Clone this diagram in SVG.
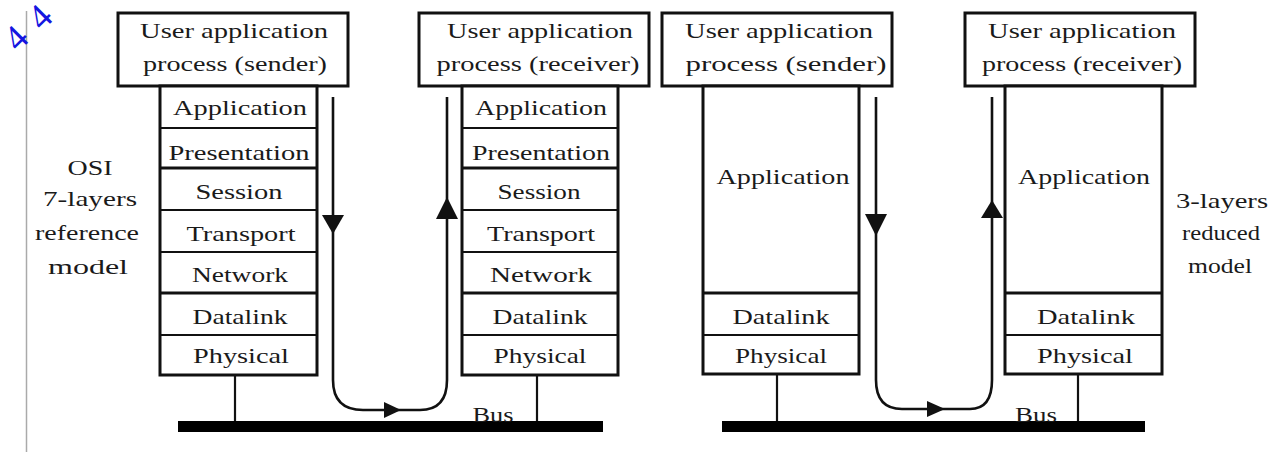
<svg xmlns="http://www.w3.org/2000/svg" width="1283" height="456" viewBox="0 0 1283 456">
<style>
  .box{fill:#fff;stroke:#111;stroke-width:3}
  .div{stroke:#111;stroke-width:2.2;fill:none}
  .divb{stroke:#111;stroke-width:3;fill:none}
  .t{font-family:"Liberation Serif",serif;font-size:22px;fill:#1a1a1a;text-anchor:middle}
  .lbl{font-family:"Liberation Serif",serif;font-size:22px;fill:#1a1a1a;text-anchor:middle}
  .line{stroke:#111;stroke-width:2.6;fill:none}
  .stem{stroke:#111;stroke-width:2.2;fill:none}
  .head{fill:#111}
  .bus{fill:#000}
</style>
<rect width="1283" height="456" fill="#fff"/>
<line x1="26.5" y1="11" x2="26.5" y2="452" stroke="#aaa" stroke-width="1.5"/>
<g id="watermark" font-family="Liberation Serif, serif" font-size="36" fill="#1515e0" text-anchor="middle">
  <text transform="translate(16,38) rotate(-45)" y="12">4</text>
  <text transform="translate(40,17) rotate(-45)" y="12">4</text>
</g>

<g id="labels">
  <text class="lbl" x="90" y="175" textLength="45" lengthAdjust="spacingAndGlyphs">OSI</text>
  <text class="lbl" x="90" y="206" textLength="94" lengthAdjust="spacingAndGlyphs">7-layers</text>
  <text class="lbl" x="87" y="240" textLength="104" lengthAdjust="spacingAndGlyphs">reference</text>
  <text class="lbl" x="88" y="274" textLength="80" lengthAdjust="spacingAndGlyphs">model</text>
  <text class="lbl" x="1222" y="208" textLength="92" lengthAdjust="spacingAndGlyphs">3-layers</text>
  <text class="lbl" x="1221" y="240" textLength="78" lengthAdjust="spacingAndGlyphs">reduced</text>
  <text class="lbl" x="1220" y="273" textLength="64" lengthAdjust="spacingAndGlyphs">model</text>
</g>

<g id="sender-osi">
  <rect class="box" x="118" y="13" width="230" height="73"/>
  <text class="t" x="234" y="38" textLength="188" lengthAdjust="spacingAndGlyphs">User application</text>
  <text class="t" x="235" y="71" textLength="184" lengthAdjust="spacingAndGlyphs">process (sender)</text>
  <rect class="box" x="160" y="86" width="157" height="289"/>
  <line class="div" x1="160" y1="128" x2="317" y2="128"/>
  <line class="divb" x1="160" y1="168" x2="317" y2="168"/>
  <line class="div" x1="160" y1="210" x2="317" y2="210"/>
  <line class="div" x1="160" y1="252" x2="317" y2="252"/>
  <line class="divb" x1="160" y1="293" x2="317" y2="293"/>
  <line class="div" x1="160" y1="335" x2="317" y2="335"/>
  <text class="t" x="240" y="115" textLength="134" lengthAdjust="spacingAndGlyphs">Application</text>
  <text class="t" x="239" y="160" textLength="141" lengthAdjust="spacingAndGlyphs">Presentation</text>
  <text class="t" x="239" y="199" textLength="87" lengthAdjust="spacingAndGlyphs">Session</text>
  <text class="t" x="241" y="241" textLength="109" lengthAdjust="spacingAndGlyphs">Transport</text>
  <text class="t" x="240" y="282" textLength="96" lengthAdjust="spacingAndGlyphs">Network</text>
  <text class="t" x="240" y="324" textLength="95" lengthAdjust="spacingAndGlyphs">Datalink</text>
  <text class="t" x="241" y="363" textLength="96" lengthAdjust="spacingAndGlyphs">Physical</text>
</g>

<g id="receiver-osi">
  <rect class="box" x="419" y="13" width="230" height="73"/>
  <text class="t" x="540" y="38" textLength="186" lengthAdjust="spacingAndGlyphs">User application</text>
  <text class="t" x="538" y="71" textLength="203" lengthAdjust="spacingAndGlyphs">process (receiver)</text>
  <rect class="box" x="462" y="86" width="156" height="289"/>
  <line class="div" x1="462" y1="128" x2="618" y2="128"/>
  <line class="divb" x1="462" y1="168" x2="618" y2="168"/>
  <line class="div" x1="462" y1="210" x2="618" y2="210"/>
  <line class="div" x1="462" y1="252" x2="618" y2="252"/>
  <line class="divb" x1="462" y1="293" x2="618" y2="293"/>
  <line class="div" x1="462" y1="335" x2="618" y2="335"/>
  <text class="t" x="541" y="115" textLength="132" lengthAdjust="spacingAndGlyphs">Application</text>
  <text class="t" x="541" y="160" textLength="138" lengthAdjust="spacingAndGlyphs">Presentation</text>
  <text class="t" x="539" y="199" textLength="83" lengthAdjust="spacingAndGlyphs">Session</text>
  <text class="t" x="541" y="241" textLength="108" lengthAdjust="spacingAndGlyphs">Transport</text>
  <text class="t" x="541" y="282" textLength="102" lengthAdjust="spacingAndGlyphs">Network</text>
  <text class="t" x="540" y="324" textLength="95" lengthAdjust="spacingAndGlyphs">Datalink</text>
  <text class="t" x="540" y="363" textLength="93" lengthAdjust="spacingAndGlyphs">Physical</text>
</g>

<g id="sender-reduced">
  <rect class="box" x="662" y="13" width="230" height="73"/>
  <text class="t" x="779" y="38" textLength="188" lengthAdjust="spacingAndGlyphs">User application</text>
  <text class="t" x="786" y="71" textLength="201" lengthAdjust="spacingAndGlyphs">process (sender)</text>
  <rect class="box" x="703" y="86" width="156" height="288"/>
  <line class="divb" x1="703" y1="293" x2="859" y2="293"/>
  <line class="div" x1="703" y1="335" x2="859" y2="335"/>
  <text class="t" x="783" y="184" textLength="133" lengthAdjust="spacingAndGlyphs">Application</text>
  <text class="t" x="781" y="324" textLength="97" lengthAdjust="spacingAndGlyphs">Datalink</text>
  <text class="t" x="781" y="363" textLength="92" lengthAdjust="spacingAndGlyphs">Physical</text>
</g>

<g id="receiver-reduced">
  <rect class="box" x="965" y="13" width="230" height="73"/>
  <text class="t" x="1082" y="38" textLength="188" lengthAdjust="spacingAndGlyphs">User application</text>
  <text class="t" x="1082" y="71" textLength="200" lengthAdjust="spacingAndGlyphs">process (receiver)</text>
  <rect class="box" x="1005" y="86" width="157" height="288"/>
  <line class="divb" x1="1005" y1="293" x2="1162" y2="293"/>
  <line class="div" x1="1005" y1="335" x2="1162" y2="335"/>
  <text class="t" x="1084" y="184" textLength="132" lengthAdjust="spacingAndGlyphs">Application</text>
  <text class="t" x="1086" y="324" textLength="98" lengthAdjust="spacingAndGlyphs">Datalink</text>
  <text class="t" x="1085" y="363" textLength="96" lengthAdjust="spacingAndGlyphs">Physical</text>
</g>

<g id="bus-left">
  <rect class="bus" x="178" y="421" width="425" height="11"/>
  <text class="lbl" x="493" y="422" textLength="41" lengthAdjust="spacingAndGlyphs">Bus</text>
</g>
<g id="bus-right">
  <rect class="bus" x="722" y="421" width="423" height="11"/>
  <text class="lbl" x="1036" y="422" textLength="42" lengthAdjust="spacingAndGlyphs">Bus</text>
</g>

<g id="connectors">
  <line class="stem" x1="235" y1="375" x2="235" y2="421"/>
  <line class="stem" x1="537" y1="375" x2="537" y2="421"/>
  <line class="stem" x1="777" y1="374" x2="777" y2="421"/>
  <line class="stem" x1="1078" y1="374" x2="1078" y2="421"/>
  <path class="line" d="M333,97 V380 Q333,410 363,410 H420 Q447,410 447,380 V97"/>
  <polygon class="head" points="322,215 344,215 333,234"/>
  <polygon class="head" points="384,402 384,418 401,410"/>
  <polygon class="head" points="436,219 458,219 447,197"/>
  <path class="line" d="M876,97 V380 Q876,409 902,409 H970 Q992,409 992,380 V97"/>
  <polygon class="head" points="865,214 887,214 876,236"/>
  <polygon class="head" points="927,401 927,417 945,409"/>
  <polygon class="head" points="981,218 1003,218 992,200"/>
</g>
</svg>
